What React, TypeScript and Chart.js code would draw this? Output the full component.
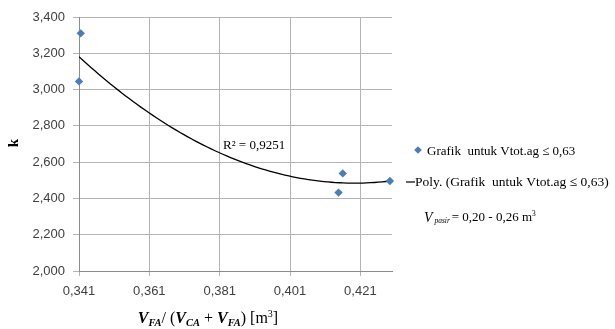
import React, { useEffect, useRef } from "react";
import { Chart, registerables } from "chart.js";

Chart.register(...registerables);

// ---- data ----
const xValues = [0.341, 0.3415, 0.4148, 0.416, 0.4294];
const kValues = [3045, 3310, 2432, 2538, 2496];

const xTickValues = [0.341, 0.361, 0.381, 0.401, 0.421];
const xTickLabels = ["0,341", "0,361", "0,381", "0,401", "0,421"];
const yTickValues = [2000, 2200, 2400, 2600, 2800, 3000, 3200, 3400];
const yTickLabels = ["2,000", "2,200", "2,400", "2,600", "2,800", "3,000", "3,200", "3,400"];

const seriesLabel = "Grafik  untuk Vtot.ag \u2264 0,63";
const trendLabel = "Poly. (Grafik  untuk Vtot.ag \u2264 0,63)";
const r2Label = "R\u00B2 = 0,9251";
const yTitle = "k";

const X_MIN = 0.341;
const X_MAX = 0.43;
const Y_MIN = 2000;
const Y_MAX = 3400;

// order-2 least-squares fit of the data (Excel "Poly." trendline)
function polyFit(xs: number[], ys: number[]) {
  const x0 = xs[0];
  const u = xs.map((x) => (x - x0) * 1000);
  let s0 = 0, s1 = 0, s2 = 0, s3 = 0, s4 = 0, t0 = 0, t1 = 0, t2 = 0;
  for (let i = 0; i < u.length; i++) {
    const a = u[i], y = ys[i];
    s0 += 1; s1 += a; s2 += a * a; s3 += a * a * a; s4 += a * a * a * a;
    t0 += y; t1 += a * y; t2 += a * a * y;
  }
  const M = [
    [s0, s1, s2, t0],
    [s1, s2, s3, t1],
    [s2, s3, s4, t2],
  ];
  for (let c = 0; c < 3; c++) {
    let p = c;
    for (let r = c + 1; r < 3; r++) if (Math.abs(M[r][c]) > Math.abs(M[p][c])) p = r;
    [M[c], M[p]] = [M[p], M[c]];
    for (let r = 0; r < 3; r++) {
      if (r === c) continue;
      const f = M[r][c] / M[c][c];
      for (let k = c; k < 4; k++) M[r][k] -= f * M[c][k];
    }
  }
  const b = [M[0][3] / M[0][0], M[1][3] / M[1][1], M[2][3] / M[2][2]];
  return (x: number) => {
    const a = (x - x0) * 1000;
    return b[0] + b[1] * a + b[2] * a * a;
  };
}

const fit = polyFit(xValues, kValues);
const xLo = Math.min(...xValues);
const xHi = Math.max(...xValues);
const trendPoints: { x: number; y: number }[] = [];
for (let i = 0; i <= 80; i++) {
  const x = xLo + ((xHi - xLo) * i) / 80;
  trendPoints.push({ x, y: fit(x) });
}

const BLUE = "#4a7ebb";
const SERIF = "'Liberation Serif', 'DejaVu Serif', serif";
const SANS = "'Liberation Sans', Arial, sans-serif";

function drawDiamond(ctx: CanvasRenderingContext2D, x: number, y: number, r: number) {
  ctx.beginPath();
  ctx.moveTo(x, y - r);
  ctx.lineTo(x + r, y);
  ctx.lineTo(x, y + r);
  ctx.lineTo(x - r, y);
  ctx.closePath();
  ctx.fill();
}

type Seg = { t: string; font: string; dy: number };
function drawSegs(ctx: CanvasRenderingContext2D, segs: Seg[], x: number, y: number, center: boolean) {
  let total = 0;
  for (const s of segs) {
    ctx.font = s.font;
    total += ctx.measureText(s.t).width;
  }
  let cx = center ? x - total / 2 : x;
  for (const s of segs) {
    ctx.font = s.font;
    ctx.fillText(s.t, cx, y + s.dy);
    cx += ctx.measureText(s.t).width;
  }
}

const overlayPlugin = {
  id: "overlay",
  afterDraw(chart: any) {
    const ctx: CanvasRenderingContext2D = chart.ctx;
    ctx.save();
    ctx.fillStyle = "#000";
    ctx.textBaseline = "middle";
    ctx.textAlign = "left";

    // R² label
    ctx.font = `13px ${SERIF}`;
    ctx.fillText(r2Label, 223, 146);

    // legend
    ctx.fillStyle = BLUE;
    drawDiamond(ctx, 418, 150, 3.8);
    ctx.fillStyle = "#000";
    ctx.font = `13px ${SERIF}`;
    ctx.fillText(seriesLabel, 427, 152);

    ctx.strokeStyle = "#000";
    ctx.lineWidth = 1.2;
    ctx.beginPath();
    ctx.moveTo(406, 182);
    ctx.lineTo(415, 182);
    ctx.stroke();
    ctx.font = `13.5px ${SERIF}`;
    ctx.fillText(trendLabel, 415, 182);

    drawSegs(
      ctx,
      [
        { t: "V", font: `italic 14px ${SERIF}`, dy: 0 },
        { t: " pasir ", font: `italic 7.5px ${SERIF}`, dy: 3 },
        { t: "= 0,20 - 0,26 m", font: `13px ${SERIF}`, dy: 0 },
        { t: "3", font: `7.5px ${SERIF}`, dy: -4 },
      ],
      424,
      218,
      false
    );

    // x axis title
    const bi = `italic bold 16px ${SERIF}`;
    const sub = `italic bold 10.5px ${SERIF}`;
    const rg = `16px ${SERIF}`;
    drawSegs(
      ctx,
      [
        { t: "V", font: bi, dy: 0 },
        { t: "FA", font: sub, dy: 4 },
        { t: "/ (", font: rg, dy: 0 },
        { t: "V", font: bi, dy: 0 },
        { t: "CA", font: sub, dy: 4 },
        { t: " + ", font: rg, dy: 0 },
        { t: "V", font: bi, dy: 0 },
        { t: "FA", font: sub, dy: 4 },
        { t: ") [m", font: rg, dy: 0 },
        { t: "3", font: `10px ${SERIF}`, dy: -5 },
        { t: "]", font: rg, dy: 0 },
      ],
      208,
      319,
      true
    );

    // y axis title
    ctx.save();
    ctx.translate(14, 143);
    ctx.rotate(-Math.PI / 2);
    ctx.textAlign = "center";
    ctx.font = `bold 15px ${SERIF}`;
    ctx.fillText(yTitle, 0, 0);
    ctx.restore();

    ctx.restore();
  },
};

export default function App() {
  const ref = useRef<HTMLCanvasElement>(null);

  useEffect(() => {
    document.body.style.margin = "0";
    const canvas = ref.current;
    if (!canvas) return;
    const chart = new Chart(canvas, {
      type: "scatter",
      data: {
        datasets: [
          {
            label: seriesLabel,
            data: xValues.map((x, i) => ({ x, y: kValues[i] })),
            pointStyle: "rectRot",
            pointRadius: 4.2,
            backgroundColor: BLUE,
            borderColor: BLUE,
            borderWidth: 0,
            clip: false,
            order: 1,
          },
          {
            label: trendLabel,
            data: trendPoints,
            showLine: true,
            pointRadius: 0,
            borderColor: "#000",
            borderWidth: 1.3,
            tension: 0,
            order: 2,
          } as any,
        ],
      },
      options: {
        animation: false,
        responsive: false,
        maintainAspectRatio: false,
        events: [],
        layout: { padding: { left: 0, right: 223, top: 17, bottom: 0 } },
        plugins: {
          legend: { display: false },
          tooltip: { enabled: false },
          title: { display: false },
        },
        scales: {
          x: {
            type: "linear",
            min: X_MIN,
            max: X_MAX,
            afterBuildTicks: (axis: any) => {
              axis.ticks = xTickValues.map((v) => ({ value: v }));
            },
            afterFit: (scale: any) => {
              scale.height = 58;
            },
            ticks: {
              autoSkip: false,
              maxRotation: 0,
              padding: 8,
              color: "#404040",
              font: { family: SANS, size: 13 },
              callback: (_v: any, i: number) => xTickLabels[i],
            },
            grid: { color: "#b4b4b4", lineWidth: 1, tickLength: 5, drawTicks: true },
            border: { color: "#8c8c8c", width: 1 },
          },
          y: {
            type: "linear",
            min: Y_MIN,
            max: Y_MAX,
            afterBuildTicks: (axis: any) => {
              axis.ticks = yTickValues.map((v) => ({ value: v }));
            },
            afterFit: (scale: any) => {
              scale.width = 79;
            },
            ticks: {
              autoSkip: false,
              padding: 8,
              color: "#404040",
              font: { family: SANS, size: 13 },
              callback: (_v: any, i: number) => yTickLabels[i],
            },
            grid: { color: "#b4b4b4", lineWidth: 1, tickLength: 6, drawTicks: true },
            border: { color: "#8c8c8c", width: 1 },
          },
        },
      },
      plugins: [overlayPlugin],
    } as any);
    return () => chart.destroy();
  }, []);

  return (
    <div style={{ width: 615, height: 329, background: "#fff" }}>
      <canvas ref={ref} width={615} height={329} style={{ display: "block" }} />
    </div>
  );
}
